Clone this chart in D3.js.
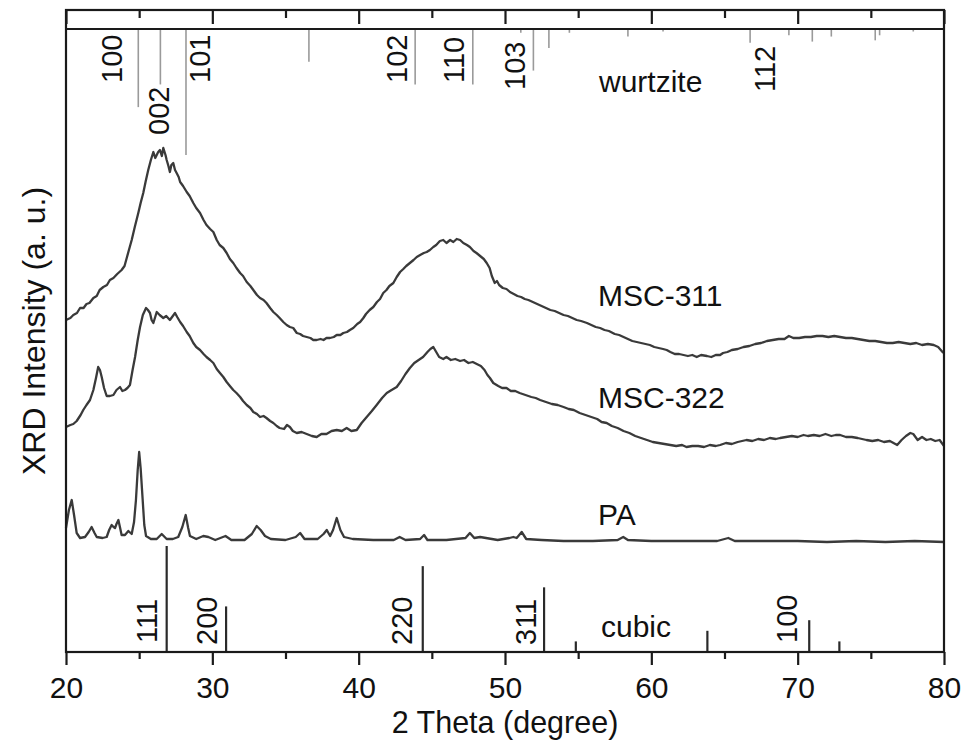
<!DOCTYPE html>
<html>
<head>
<meta charset="utf-8">
<script src="https://cdn.jsdelivr.net/npm/d3@7"></script>
<style>
  body { margin: 0; background: #fff; }
  svg text { font-family: "Liberation Sans", Arial, sans-serif; fill: #111; }
</style>
</head>
<body>
<svg id="chart" width="966" height="742"></svg>
<script>
"use strict";

// XRD traces, [2 theta, intensity (a.u.)]
const msc311 = [[20.0,332],[20.3,334],[20.5,337],[20.75,339],[20.96,344],[21.2,344],[21.4,348],[21.6,349],[21.87,354],[22.1,356],[22.3,362],[22.55,365],[22.8,367],[23.0,372],[23.24,374],[23.5,378],[23.8,382],[24.0,386],[24.15,394],[24.3,402],[24.49,412],[24.7,425],[24.94,439],[25.1,449],[25.28,459],[25.45,471],[25.62,482],[25.8,492],[25.97,500],[26.1,494],[26.2,497],[26.3,500],[26.42,502],[26.55,496],[26.65,504],[26.8,497],[26.88,492],[27.0,486],[27.1,480],[27.2,487],[27.33,489],[27.45,482],[27.56,479],[27.7,475],[27.8,470],[28.0,466],[28.25,460],[28.45,456],[28.7,449],[28.9,444],[29.16,439],[29.4,432],[29.6,427],[29.85,423],[30.07,420],[30.3,412],[30.5,407],[30.75,404],[30.98,399],[31.2,393],[31.43,389],[31.65,384],[31.9,379],[32.1,376],[32.35,370],[32.6,366],[32.8,362],[33.05,357],[33.26,354],[33.5,352],[33.7,349],[33.95,344],[34.17,340],[34.4,337],[34.6,334],[34.85,330],[35.08,327],[35.3,325],[35.53,324],[35.77,319],[36.0,318],[36.2,316],[36.45,315],[36.7,314],[36.9,312],[37.13,312],[37.4,313],[37.6,312],[37.8,314],[38.04,314],[38.3,315],[38.5,317],[38.75,317],[38.95,319],[39.2,320],[39.4,322],[39.63,324],[39.9,328],[40.1,330],[40.32,334],[40.5,338],[40.75,342],[41.0,345],[41.25,350],[41.46,353],[41.68,359],[41.9,362],[42.1,366],[42.37,369],[42.6,375],[42.83,380],[43.05,383],[43.25,386],[43.5,389],[43.75,392],[43.97,395],[44.2,397],[44.45,399],[44.65,400],[44.87,402],[45.1,405],[45.3,407],[45.55,411],[45.78,412],[46.0,409],[46.25,412],[46.47,410],[46.7,413],[46.93,412],[47.15,409],[47.4,407],[47.6,405],[47.85,401],[48.05,399],[48.3,396],[48.55,393],[48.75,389],[48.95,384],[49.1,376],[49.3,369],[49.45,371],[49.6,367],[49.85,364],[50.1,363],[50.34,360],[50.6,358],[50.85,356],[51.1,355],[51.35,353],[51.6,352],[51.9,350],[52.2,348],[52.5,346],[52.8,344],[53.1,342],[53.4,341],[53.7,339],[54.0,337],[54.3,336],[54.6,334],[54.9,332],[55.2,331],[55.6,329],[55.9,327],[56.2,325],[56.5,324],[56.8,322],[57.1,321],[57.5,318],[57.8,317],[58.1,315],[58.4,313],[58.7,311],[59.0,310],[59.3,309],[59.6,308],[59.9,307],[60.2,305],[60.5,304],[60.8,303],[61.05,302],[61.3,300],[61.6,298],[61.9,298],[62.2,297],[62.5,296],[62.8,297],[63.1,295],[63.4,297],[63.8,296],[64.1,295],[64.4,297],[64.7,297],[64.9,299],[65.2,300],[65.5,302],[65.9,303],[66.3,305],[66.7,306],[67.1,308],[67.5,309],[67.9,311],[68.3,312],[68.7,313],[69.1,313],[69.4,316],[69.7,314],[70.1,314],[70.5,315],[70.9,315],[71.3,316],[71.7,316],[72.1,315],[72.5,316],[72.9,315],[73.3,314],[73.7,314],[74.1,313],[74.5,312],[74.9,311],[75.3,311],[75.7,310],[76.1,309],[76.5,309],[76.9,310],[77.3,309],[77.7,308],[78.1,309],[78.5,307],[78.9,308],[79.3,307],[79.6,305],[79.9,300],[80.0,299]];

const msc322 = [[20.0,225],[20.3,227],[20.5,228],[20.73,231],[21.0,237],[21.18,242],[21.4,247],[21.64,252],[21.87,262],[22.05,274],[22.2,285],[22.32,282],[22.44,275],[22.6,264],[22.78,256],[23.0,256],[23.24,257],[23.45,262],[23.69,265],[23.85,261],[24.03,262],[24.2,264],[24.37,267],[24.55,282],[24.72,295],[24.9,312],[25.06,325],[25.25,337],[25.47,344],[25.6,342],[25.74,339],[25.85,332],[25.97,329],[26.2,340],[26.4,337],[26.65,334],[26.85,336],[27.1,332],[27.3,336],[27.45,339],[27.6,335],[27.8,330],[28.0,326],[28.25,320],[28.45,316],[28.7,309],[28.9,305],[29.16,302],[29.4,298],[29.6,295],[29.85,292],[30.07,289],[30.3,283],[30.52,279],[30.75,275],[30.98,270],[31.2,266],[31.43,262],[31.65,259],[31.9,255],[32.1,251],[32.35,247],[32.6,244],[32.8,240],[33.05,238],[33.26,235],[33.5,236],[33.7,234],[33.95,231],[34.17,229],[34.4,226],[34.6,224],[34.9,223],[35.1,227],[35.3,225],[35.5,221],[35.77,219],[36.1,220],[36.45,218],[36.8,216],[37.13,215],[37.45,218],[37.8,218],[38.15,221],[38.5,222],[38.85,221],[39.18,224],[39.5,221],[39.87,222],[40.2,229],[40.55,235],[40.9,241],[41.23,247],[41.6,254],[41.92,259],[42.25,262],[42.6,265],[42.9,271],[43.2,278],[43.5,284],[43.8,289],[44.1,292],[44.4,295],[44.7,300],[44.9,303],[45.1,305],[45.3,300],[45.5,295],[45.78,293],[46.0,295],[46.3,292],[46.6,293],[46.93,291],[47.2,292],[47.5,289],[47.8,290],[48.07,288],[48.35,286],[48.6,282],[48.8,277],[48.97,274],[49.2,269],[49.54,266],[49.8,264],[50.1,264],[50.4,261],[50.7,261],[51.0,259],[51.4,257],[51.8,255],[52.1,254],[52.4,252],[52.8,250],[53.2,248],[53.6,247],[54.0,245],[54.35,243],[54.7,242],[55.1,239],[55.5,237],[55.9,235],[56.3,233],[56.6,230],[56.95,229],[57.3,226],[57.7,224],[58.1,221],[58.5,219],[58.9,216],[59.3,214],[59.7,212],[60.1,210],[60.5,209],[60.9,208],[61.3,207],[61.7,206],[62.1,207],[62.4,205],[62.8,206],[63.2,206],[63.6,205],[64.0,207],[64.4,206],[64.7,207],[65.1,209],[65.5,208],[65.9,210],[66.2,211],[66.5,212],[66.9,211],[67.3,213],[67.7,212],[68.1,214],[68.5,213],[68.8,214],[69.2,215],[69.6,216],[70.0,215],[70.4,217],[70.7,216],[71.1,217],[71.5,216],[71.9,218],[72.3,216],[72.6,217],[72.9,217],[73.3,215],[73.7,215],[74.1,214],[74.4,213],[74.7,212],[75.1,211],[75.5,212],[75.9,210],[76.3,211],[76.8,207],[77.1,212],[77.4,216],[77.7,219],[77.9,218],[78.2,212],[78.5,215],[78.8,212],[79.1,213],[79.4,211],[79.7,212],[79.9,208],[80.0,206]];

const pa = [[20.0,124],[20.2,142],[20.39,152],[20.55,137],[20.73,119],[20.96,114],[21.3,115],[21.55,120],[21.75,125],[21.95,119],[22.1,115],[22.5,114],[22.78,115],[22.95,122],[23.12,127],[23.25,125],[23.35,124],[23.45,128],[23.58,132],[23.7,124],[23.8,117],[24.03,117],[24.26,121],[24.49,118],[24.65,130],[24.78,152],[24.9,182],[25.0,200],[25.1,184],[25.24,152],[25.35,127],[25.47,116],[25.8,113],[26.2,113],[26.54,118],[26.88,113],[27.3,113],[27.67,115],[27.95,125],[28.18,137],[28.35,124],[28.47,116],[28.9,113],[29.38,116],[29.73,115],[30.2,112],[30.9,116],[31.3,112],[32.2,112],[32.7,118],[33.03,126],[33.3,122],[33.6,116],[34.0,113],[35.0,112],[35.7,115],[36.0,119],[36.3,113],[37.2,113],[37.6,118],[37.82,122],[38.05,116],[38.25,122],[38.5,134],[38.75,122],[39.0,115],[39.6,113],[41.0,112],[42.4,112],[42.8,115],[43.2,112],[44.2,113],[44.47,117],[44.7,112],[46.0,112],[47.3,114],[47.6,119],[47.9,114],[48.3,115],[49.5,112],[50.3,114],[50.57,115],[50.8,114],[51.14,120],[51.45,113],[52.5,112],[54.0,111],[56.0,111],[57.7,112],[58.08,115],[58.4,112],[60.0,111],[62.0,111],[64.5,111],[65.26,114],[65.7,111],[68.0,111],[70.0,111],[72.0,110],[74.0,111],[76.0,110],[78.0,111],[80.0,110]];

// reference patterns (relative intensity)
const wurtziteAngles = [24.94, 26.45, 28.2, 36.6, 43.86, 47.8, 51.08, 51.94, 53.0, 54.4, 58.4, 60.8, 66.75, 69.4, 71.0, 72.3, 75.3, 75.6, 77.9];
const wurtziteInt    = [62, 44, 100, 26, 44, 44, 3, 33, 15, 3, 6, 2, 11, 5, 10, 6, 9, 5, 2];
const wurtziteHkl    = ["100", "002", "101", "102", "110", "103", "112"];
const wurtziteHklAt  = [23.14, 26.3, 29.16, 42.6, 46.47, 50.68, 67.77];

const cubicAngles = [26.88, 30.94, 44.38, 52.67, 54.84, 63.83, 70.79, 72.85];
const cubicInt    = [100, 43, 81, 61, 10, 20, 30, 10];
const cubicHkl    = ["111", "200", "220", "311", "100"];
const cubicHklAt  = [25.52, 29.6, 42.94, 51.37, 69.25];

const xTicks = [20, 30, 40, 50, 60, 70, 80];
const xMinor = [25, 35, 45, 55, 65, 75];

const traceLabels = ["MSC-311", "MSC-322", "PA"];

// layout
const mLeft = 66, mRight = 944, mTop = 10, stripBottom = 29, mBottom = 652;
const fontSize = 30;

const svg = d3.select("#chart");

const x = d3.scaleLinear().domain([20, 80]).range([mLeft, mRight]);
const y = d3.scaleLinear().domain([0, 623]).range([mBottom, stripBottom]);
const wLen = d3.scaleLinear().domain([0, 100]).range([0, 126]);
const cLen = d3.scaleLinear().domain([0, 100]).range([0, 106]);

// wurtzite sticks hanging from the strip
svg.append("g")
  .selectAll("line")
  .data(wurtziteAngles)
  .join("line")
  .attr("x1", d => x(d)).attr("x2", d => x(d))
  .attr("y1", stripBottom)
  .attr("y2", (d, i) => stripBottom + wLen(wurtziteInt[i]))
  .attr("stroke", "#9a9a9a")
  .attr("stroke-width", 1.6);

// cubic sticks standing on the bottom axis
svg.append("g")
  .selectAll("line")
  .data(cubicAngles)
  .join("line")
  .attr("x1", d => x(d)).attr("x2", d => x(d))
  .attr("y1", mBottom)
  .attr("y2", (d, i) => mBottom - cLen(cubicInt[i]))
  .attr("stroke", "#2a2a2a")
  .attr("stroke-width", 2.2);

// traces
const line = d3.line()
  .x(d => x(d[0]))
  .y(d => y(d[1]));

[msc311, msc322, pa].forEach(trace => {
  svg.append("path")
    .datum(trace)
    .attr("d", line)
    .attr("fill", "none")
    .attr("stroke", "#3a3a3a")
    .attr("stroke-width", 2.3)
    .attr("stroke-linejoin", "round");
});

// frame
svg.append("rect")
  .attr("x", mLeft).attr("y", mTop)
  .attr("width", mRight - mLeft).attr("height", mBottom - mTop)
  .attr("fill", "none")
  .attr("stroke", "#1a1a1a")
  .attr("stroke-width", 2.2);
svg.append("line")
  .attr("x1", mLeft).attr("x2", mRight)
  .attr("y1", stripBottom).attr("y2", stripBottom)
  .attr("stroke", "#1a1a1a")
  .attr("stroke-width", 2.2);

// bottom axis
const xAxis = svg.append("g")
  .attr("transform", `translate(0,${mBottom})`)
  .call(d3.axisBottom(x).tickValues(xTicks).tickSize(13).tickPadding(12).tickFormat(d3.format("d")));
svg.append("g")
  .attr("transform", `translate(0,${mBottom})`)
  .call(d3.axisBottom(x).tickValues(xMinor).tickSize(7).tickFormat(""));

// top ticks pointing inward
svg.append("g")
  .attr("transform", `translate(0,${mTop})`)
  .call(d3.axisBottom(x).tickValues(xTicks).tickSize(14).tickFormat(""));
svg.append("g")
  .attr("transform", `translate(0,${mTop})`)
  .call(d3.axisBottom(x).tickValues(xMinor).tickSize(8).tickFormat(""));

svg.selectAll(".domain").remove();
svg.selectAll(".tick line").attr("stroke", "#1a1a1a").attr("stroke-width", 2.2);
xAxis.selectAll(".tick text")
  .attr("font-size", fontSize)
  .attr("font-family", "Liberation Sans, Arial, sans-serif")
  .attr("fill", "#111");

// axis titles
svg.append("text")
  .attr("x", 505).attr("y", 733)
  .attr("text-anchor", "middle")
  .attr("font-size", 30.5)
  .text("2 Theta (degree)");

svg.append("text")
  .attr("transform", "translate(45,331) rotate(-90)")
  .attr("text-anchor", "middle")
  .attr("font-size", 32)
  .text("XRD Intensity (a. u.)");

// hkl labels
const wLabelBottom = [83, 135, 83, 83, 83, 90, 92];
svg.append("g")
  .selectAll("text")
  .data(wurtziteHkl)
  .join("text")
  .attr("transform", (d, i) => `translate(${x(wurtziteHklAt[i])},${wLabelBottom[i]}) rotate(-90)`)
  .attr("dy", "0.36em")
  .attr("font-size", fontSize - 1)
  .text(d => d);

const cLabelBottom = [643, 645, 645, 645, 643];
svg.append("g")
  .selectAll("text")
  .data(cubicHkl)
  .join("text")
  .attr("transform", (d, i) => `translate(${x(cubicHklAt[i])},${cLabelBottom[i]}) rotate(-90)`)
  .attr("dy", "0.36em")
  .attr("font-size", fontSize - 1)
  .text(d => d);

// pattern names
const nameX = 598;
const nameY = [306, 408, 525];
svg.append("g")
  .selectAll("text")
  .data(traceLabels)
  .join("text")
  .attr("x", nameX)
  .attr("y", (d, i) => nameY[i])
  .attr("font-size", fontSize)
  .text(d => d);

svg.append("text").attr("x", 599).attr("y", 92).attr("font-size", fontSize).text("wurtzite");
svg.append("text").attr("x", 601).attr("y", 637).attr("font-size", fontSize).text("cubic");
</script>
</body>
</html>
